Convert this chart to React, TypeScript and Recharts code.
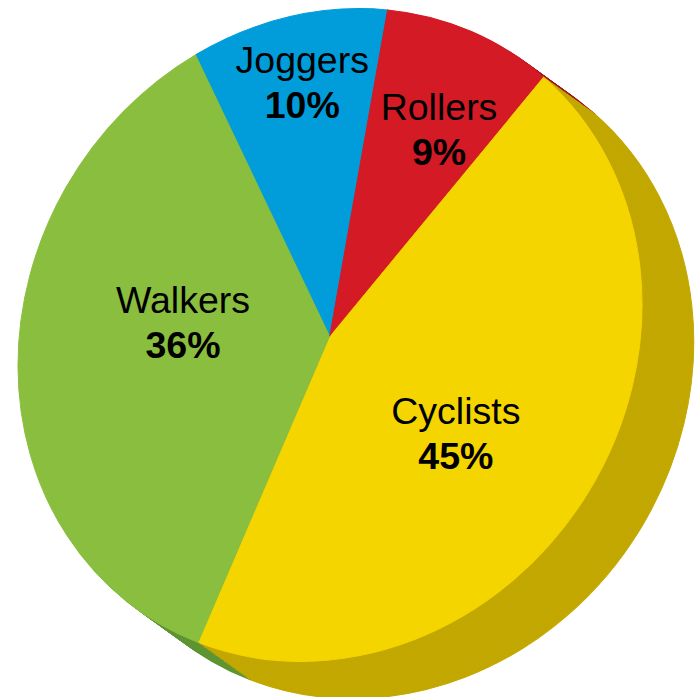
import React from 'react';
import { PieChart, Pie, Cell } from 'recharts';

// ---- data ----
const categories = ['Cyclists', 'Walkers', 'Joggers', 'Rollers'];
const shares = [45, 36, 10, 9];

// ---- styles ----
const topColors = ['#F5D500', '#8ABE3E', '#009DDA', '#D41A25'];
const sideColors = ['#C2A800', '#5F9533', '#00709C', '#A3141C'];

// label placement tweaks (fraction of radius, angular shift clockwise in degrees)
const labelRadius = [0.529, 0.478, 0.789, 0.694];
const labelAngleShift = [6.3, 9.9, 0.9, 3.4];

const data = categories.map((name, i) => ({ name, value: shares[i] }));

// tilt of the pie's top face (linear part of an affine transform)
const TILT = [0.974, -0.0464, -0.0464, 1.019];
const det = TILT[0] * TILT[3] - TILT[1] * TILT[2];
const INV = [TILT[3] / det, -TILT[1] / det, -TILT[2] / det, TILT[0] / det];

const CX = 330;
const CY = 335;
const R = 320;
const START = 49.7;
const END = START - 360;
const STEPS = 24;
const SIDE_DX = 55;
const SIDE_DY = 39;
const FONT = "'Liberation Sans', Arial, Helvetica, sans-serif";

const renderLabel = (props: any) => {
  const { cx, cy, midAngle, outerRadius } = props;
  const nm = props.name ?? (props.payload && props.payload.name);
  const i = categories.indexOf(nm);
  if (i < 0) return null;
  const r = outerRadius * labelRadius[i];
  const ang = ((midAngle - labelAngleShift[i]) * Math.PI) / 180;
  const x = cx + r * Math.cos(ang);
  const y = cy - r * Math.sin(ang);
  return (
    <g key={`lbl-${i}`} transform={`translate(${x} ${y}) matrix(${INV[0]} ${INV[1]} ${INV[2]} ${INV[3]} 0 0)`}>
      <text x={0} y={-10} textAnchor="middle" fontSize={37.5} fontFamily={FONT} fill="#000">
        {categories[i]}
      </text>
      <text x={0} y={35} textAnchor="middle" fontSize={37.5} fontWeight="bold" fontFamily={FONT} fill="#000">
        {`${shares[i]}%`}
      </text>
    </g>
  );
};

export default function App() {
  const sides = Array.from({ length: STEPS }, (_, k) => (STEPS - k) / STEPS);
  return (
    <div
      style={{
        position: 'fixed',
        left: 0,
        top: 0,
        width: 696,
        height: 697,
        overflow: 'hidden',
        background: '#fff',
      }}
    >
      <div
        style={{
          width: 760,
          height: 760,
          transform: `matrix(${TILT[0]}, ${TILT[1]}, ${TILT[2]}, ${TILT[3]}, 0, 0)`,
          transformOrigin: `${CX}px ${CY}px`,
        }}
      >
        <PieChart width={760} height={760} margin={{ top: 0, right: 0, bottom: 0, left: 0 }}>
          {sides.map((t) => (
            <Pie
              key={`side-${t}`}
              data={data}
              dataKey="value"
              nameKey="name"
              cx={CX + SIDE_DX * t}
              cy={CY + SIDE_DY * t}
              outerRadius={R}
              startAngle={START}
              endAngle={END}
              isAnimationActive={false}
              stroke="none"
              labelLine={false}
            >
              {data.map((d, i) => (
                <Cell key={d.name} fill={sideColors[i]} stroke={sideColors[i]} strokeWidth={1} />
              ))}
            </Pie>
          ))}
          <Pie
            data={data}
            dataKey="value"
            nameKey="name"
            cx={CX}
            cy={CY}
            outerRadius={R}
            startAngle={START}
            endAngle={END}
            isAnimationActive={false}
            labelLine={false}
            label={renderLabel}
          >
            {data.map((d, i) => (
              <Cell key={d.name} fill={topColors[i]} stroke={topColors[i]} strokeWidth={1} />
            ))}
          </Pie>
        </PieChart>
      </div>
    </div>
  );
}
